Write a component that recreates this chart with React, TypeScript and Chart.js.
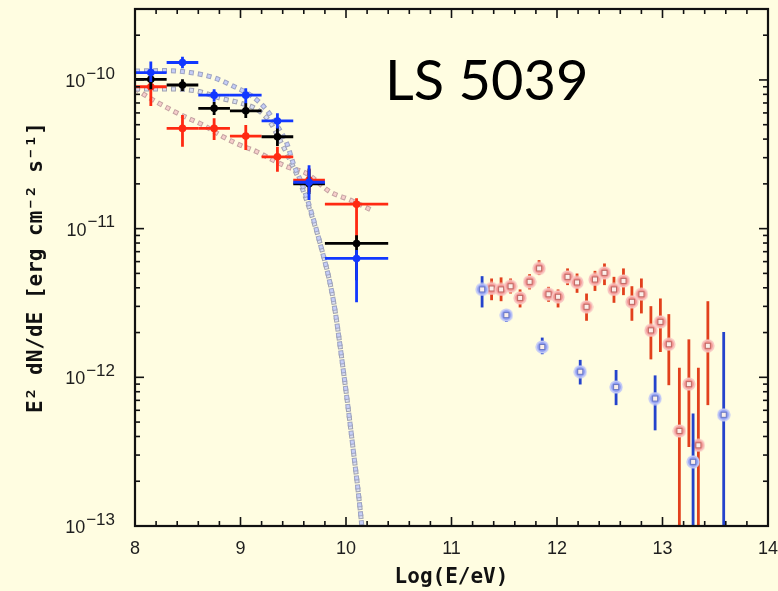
import { useEffect, useRef } from "react";
import { Chart, registerables } from "chart.js";

Chart.register(...registerables);

const BG = "#fffde1";

// Axis ranges and tick labels
const xMin = 8;
const xMax = 14;
const yMin = 1e-13;
const yMax = 3e-10;
const xTickLabels = ["8", "9", "10", "11", "12", "13", "14"];
const yDecades = [-13, -12, -11, -10];

// Fermi-LAT spectral points: bin centres and bin edges in log10(E/eV)
const latLogE = [8.15, 8.45, 8.75, 9.05, 9.35, 9.65, 10.1];
const latBinLo = [8.0, 8.3, 8.6, 8.9, 9.2, 9.5, 9.8];
const latBinHi = [8.3, 8.6, 8.9, 9.2, 9.5, 9.8, 10.4];

const latBlue = [1.12e-10, 1.31e-10, 7.9e-11, 7.9e-11, 5.3e-11, 2.05e-11, 6.3e-12];
const latBlueLo = [9.7e-11, 1.2e-10, 7.13e-11, 6.96e-11, 4.72e-11, 1.56e-11, 3.2e-12];
const latBlueHi = [1.33e-10, 1.43e-10, 8.65e-11, 8.78e-11, 5.96e-11, 2.67e-11, 7.17e-12];

const latBlack = [1.01e-10, 9.25e-11, 6.44e-11, 6.2e-11, 4.15e-11, 2.0e-11, 7.95e-12];
const latBlackLo = [8.65e-11, 8.41e-11, 5.8e-11, 5.54e-11, 3.59e-11, 1.71e-11, 4.5e-12];
const latBlackHi = [1.18e-10, 1.01e-10, 7.1e-11, 7.0e-11, 4.82e-11, 2.51e-11, 9.04e-12];

const latRed = [9.0e-11, 4.72e-11, 4.72e-11, 4.19e-11, 3.04e-11, 2.12e-11, 1.46e-11];
const latRedLo = [6.67e-11, 3.55e-11, 3.94e-11, 3.38e-11, 2.41e-11, 1.76e-11, 7.5e-12];
const latRedHi = [1.1e-10, 5.8e-11, 5.52e-11, 4.97e-11, 3.55e-11, 2.55e-11, 1.6e-11];

// H.E.S.S. spectral points (red: high state, blue: low state)
const hessRedLogE = [11.38, 11.47, 11.56, 11.65, 11.74, 11.83, 11.92, 12.01, 12.1, 12.19, 12.28, 12.36, 12.45, 12.54, 12.63, 12.71, 12.8, 12.89, 12.98, 13.06, 13.16, 13.25, 13.34, 13.43];
const hessRed = [3.96e-12, 3.9e-12, 4.1e-12, 3.42e-12, 4.39e-12, 5.4e-12, 3.62e-12, 3.48e-12, 4.74e-12, 4.35e-12, 2.98e-12, 4.55e-12, 5.04e-12, 3.9e-12, 4.45e-12, 3.22e-12, 3.62e-12, 2.07e-12, 2.36e-12, 1.67e-12, 4.36e-13, 9.0e-13, 3.49e-13, 1.63e-12];
const hessRedLo = [3.3e-12, 3.25e-12, 3.66e-12, 2.95e-12, 3.9e-12, 4.87e-12, 3.22e-12, 2.95e-12, 4.17e-12, 3.7e-12, 2.4e-12, 3.81e-12, 4.17e-12, 3.17e-12, 3.57e-12, 2.4e-12, 2.69e-12, 1.32e-12, 1.48e-12, 8.85e-13, 1e-14, 3.4e-13, 1e-14, 6.5e-13];
const hessRedHi = [4.62e-12, 4.7e-12, 4.62e-12, 3.9e-12, 4.94e-12, 6.14e-12, 4.06e-12, 3.9e-12, 5.4e-12, 4.99e-12, 3.66e-12, 5.2e-12, 5.83e-12, 4.74e-12, 5.4e-12, 4.1e-12, 4.62e-12, 3.01e-12, 3.39e-12, 2.66e-12, 1.16e-12, 1.8e-12, 1.16e-12, 3.25e-12];

const hessBlueLogE = [11.29, 11.52, 11.86, 12.22, 12.56, 12.93, 13.29, 13.58];
const hessBlue = [3.9e-12, 2.62e-12, 1.6e-12, 1.09e-12, 8.6e-13, 7.2e-13, 2.7e-13, 5.6e-13];
const hessBlueLo = [2.95e-12, 2.36e-12, 1.43e-12, 8.95e-13, 6.5e-13, 4.4e-13, 1e-14, 1e-14];
const hessBlueHi = [4.79e-12, 2.83e-12, 1.85e-12, 1.31e-12, 1.12e-12, 1.03e-12, 5.7e-13, 2.02e-12];

// Model curves
const modelUpperLogE = [8.0, 8.284, 8.521, 8.739, 8.929, 9.118, 9.248, 9.343, 9.438, 9.5, 9.6, 9.754, 9.88, 9.974, 10.069, 10.149, 10.161];
const modelUpper = [1.148e-10, 1.156e-10, 1.122e-10, 1.04e-10, 9.1e-11, 7.7e-11, 6.27e-11, 4.97e-11, 3.76e-11, 2.75e-11, 1.85e-11, 7.98e-12, 3.3e-12, 1.12e-12, 3.23e-13, 1.01e-13, 7.9e-14];

const modelMidLogE = [8.0, 8.332, 8.588, 8.806, 8.995, 9.166, 9.28, 9.374, 9.469, 9.564, 9.754, 9.88, 9.974, 10.069, 10.149, 10.161];
const modelMid = [8.69e-11, 8.69e-11, 8.41e-11, 7.55e-11, 7.0e-11, 6.27e-11, 5.21e-11, 3.94e-11, 2.89e-11, 2.05e-11, 7.98e-12, 3.3e-12, 1.12e-12, 3.23e-13, 1.01e-13, 7.9e-14];

const modelLowLogE = [8.0, 8.095, 8.316, 8.474, 8.647, 8.834, 8.995, 9.154, 9.28, 9.438, 9.627, 9.848, 10.038, 10.244];
const modelLow = [8.81e-11, 7.9e-11, 6.44e-11, 5.65e-11, 4.97e-11, 4.15e-11, 3.65e-11, 3.29e-11, 2.96e-11, 2.61e-11, 2.35e-11, 1.77e-11, 1.56e-11, 1.33e-11];

const pts = (xs: number[], ys: number[]) => xs.map((x, i) => ({ x, y: ys[i] }));

// Marker glyph: filled disc with a small open square in the middle
function makeGlyph(fill: string, ring: string, square: string) {
  const size = 14;
  const c = document.createElement("canvas");
  c.width = size;
  c.height = size;
  const g = c.getContext("2d")!;
  const m = size / 2;
  g.beginPath();
  g.arc(m, m, m - 1.3, 0, Math.PI * 2);
  g.fillStyle = fill;
  g.fill();
  g.lineWidth = 1.8;
  g.strokeStyle = ring;
  g.stroke();
  g.fillStyle = "#fbefea";
  g.fillRect(m - 2, m - 2, 4, 4);
  g.lineWidth = 1;
  g.strokeStyle = square;
  g.strokeRect(m - 2.5, m - 2.5, 5, 5);
  return c;
}

// Error bars drawn just beneath each dataset's markers
const errorBarPlugin = {
  id: "errorBars",
  beforeDatasetDraw(chart: any, args: any) {
    const ds = chart.data.datasets[args.index];
    if (!ds.errYLo) return;
    const { ctx, chartArea: a, scales } = chart;
    const xs = scales.x;
    const ys = scales.y;
    ctx.save();
    ctx.beginPath();
    ctx.rect(a.left, a.top, a.right - a.left, a.bottom - a.top);
    ctx.clip();
    ctx.strokeStyle = ds.errColor;
    ctx.lineWidth = ds.errWidth;
    ctx.lineCap = "butt";
    ds.data.forEach((p: any, i: number) => {
      const px = xs.getPixelForValue(p.x);
      const py = ys.getPixelForValue(p.y);
      ctx.beginPath();
      ctx.moveTo(px, ys.getPixelForValue(ds.errYLo[i]));
      ctx.lineTo(px, ys.getPixelForValue(ds.errYHi[i]));
      if (ds.errXLo) {
        ctx.moveTo(xs.getPixelForValue(ds.errXLo[i]), py);
        ctx.lineTo(xs.getPixelForValue(ds.errXHi[i]), py);
      }
      ctx.stroke();
    });
    ctx.restore();
  },
};

// Frame with inward ticks on all four sides, tick labels, axis titles and source name
const framePlugin = {
  id: "frame",
  afterDatasetsDraw(chart: any) {
    const { ctx, chartArea: a, scales } = chart;
    const xs = scales.x;
    const ys = scales.y;
    ctx.save();
    ctx.strokeStyle = "#111";
    ctx.lineWidth = 1.6;
    const seg = (x1: number, y1: number, x2: number, y2: number) => {
      ctx.beginPath();
      ctx.moveTo(x1, y1);
      ctx.lineTo(x2, y2);
      ctx.stroke();
    };
    for (let i = 0; i <= (xMax - xMin) * 5; i++) {
      const px = xs.getPixelForValue(xMin + i * 0.2);
      const len = i % 5 === 0 ? 9 : 5;
      seg(px, a.bottom, px, a.bottom - len);
      seg(px, a.top, px, a.top + len);
    }
    for (const e of yDecades) {
      for (let m = 1; m <= 9; m++) {
        const v = m * Math.pow(10, e);
        if (v > yMax * 1.0001) continue;
        const py = ys.getPixelForValue(v);
        const len = m === 1 ? 9 : 5;
        seg(a.left, py, a.left + len, py);
        seg(a.right, py, a.right - len, py);
      }
    }
    ctx.lineWidth = 2.2;
    ctx.strokeRect(a.left, a.top, a.right - a.left, a.bottom - a.top);
    ctx.restore();
  },
  afterDraw(chart: any) {
    const { ctx, chartArea: a, scales } = chart;
    const xs = scales.x;
    const ys = scales.y;
    ctx.save();
    ctx.fillStyle = "#1e1e1e";
    ctx.textBaseline = "middle";

    // x tick labels
    ctx.font = "18px 'Liberation Sans'";
    ctx.textAlign = "center";
    xTickLabels.forEach((t) => {
      ctx.fillText(t, xs.getPixelForValue(Number(t)), a.bottom + 23);
    });

    // y tick labels as 10 with a raised exponent
    ctx.textAlign = "left";
    for (const e of yDecades) {
      const py = ys.getPixelForValue(Math.pow(10, e));
      const sup = "\u2212" + String(-e);
      ctx.font = "17px 'Liberation Sans'";
      const wSup = ctx.measureText(sup).width;
      ctx.font = "18px 'Liberation Sans'";
      const wBase = ctx.measureText("10").width;
      const right = a.left - 20;
      const supX = right - wSup;
      ctx.fillText("10", supX - wBase - 1, py + 2);
      ctx.font = "17px 'Liberation Sans'";
      ctx.fillText(sup, supX, py - 6);
    }

    // axis titles
    ctx.fillStyle = "#111";
    ctx.font = "bold 21px 'DejaVu Sans Mono'";
    ctx.textAlign = "center";
    ctx.fillText("Log(E/eV)", (a.left + a.right) / 2, 578);
    ctx.save();
    ctx.translate(37, (a.top + a.bottom) / 2);
    ctx.rotate(-Math.PI / 2);
    ctx.fillText("E\u00b2 dN/dE [erg cm\u207b\u00b2 s\u207b\u00b9]", 0, 0);
    ctx.restore();

    // source name
    ctx.fillStyle = "#000";
    ctx.font = "56px Lato";
    ctx.textAlign = "left";
    ctx.textBaseline = "alphabetic";
    ctx.fillText("LS 5039", 385, 100);
    ctx.restore();
  },
};

// A model curve drawn as a chain of small open squares: a grey dashed outline with a pale dashed core
function modelLines(xs: number[], ys: number[], fill: string, edge: string, order: number) {
  const base = {
    type: "line" as const,
    data: pts(xs, ys),
    pointRadius: 0,
    fill: false,
    cubicInterpolationMode: "monotone" as const,
    clip: 0,
    borderCapStyle: "butt" as const,
  };
  return [
    { ...base, borderColor: fill, borderWidth: 3, borderDash: [3, 6], borderDashOffset: -1, order },
    { ...base, borderColor: edge, borderWidth: 5, borderDash: [5, 4], order: order + 1 },
  ];
}

export default function App() {
  const ref = useRef<HTMLCanvasElement>(null);

  useEffect(() => {
    const redGlyph = makeGlyph("#f2928e", "#f8c4c0", "#c06a66");
    const blueGlyph = makeGlyph("#8c9af0", "#c3caf6", "#6c7ac4");

    const latSet = (ys: number[], lo: number[], hi: number[], color: string, order: number) => ({
      type: "scatter" as const,
      data: pts(latLogE, ys),
      pointStyle: "circle" as const,
      pointRadius: 3.8,
      backgroundColor: color,
      borderColor: color,
      borderWidth: 0,
      errXLo: latBinLo,
      errXHi: latBinHi,
      errYLo: lo,
      errYHi: hi,
      errColor: color,
      errWidth: 2.8,
      clip: 0,
      order,
    });

    const hessSet = (xs: number[], ys: number[], lo: number[], hi: number[], glyph: HTMLCanvasElement, color: string, order: number) => ({
      type: "scatter" as const,
      data: pts(xs, ys),
      pointStyle: glyph,
      pointRadius: 6,
      errYLo: lo,
      errYHi: hi,
      errColor: color,
      errWidth: 2.8,
      clip: 0,
      order,
    });

    const chart = new Chart(ref.current!, {
      type: "scatter",
      data: {
        datasets: [
          ...modelLines(modelLowLogE, modelLow, "#f7cfcc", "#c4a2a2", 30),
          ...modelLines(modelMidLogE, modelMid, "#dadff2", "#a0a2b2", 26),
          ...modelLines(modelUpperLogE, modelUpper, "#c6cef8", "#9ea4c2", 22),
          latSet(latRed, latRedLo, latRedHi, "#ff2a12", 12),
          latSet(latBlack, latBlackLo, latBlackHi, "#000000", 11),
          latSet(latBlue, latBlueLo, latBlueHi, "#1238ff", 10),
          hessSet(hessRedLogE, hessRed, hessRedLo, hessRedHi, redGlyph, "#e2401c", 4),
          hessSet(hessBlueLogE, hessBlue, hessBlueLo, hessBlueHi, blueGlyph, "#2443cc", 3),
        ] as any,
      },
      options: {
        responsive: false,
        devicePixelRatio: 1,
        animation: false,
        events: [],
        layout: { padding: { left: 135, right: 10, top: 9, bottom: 65 } },
        plugins: { legend: { display: false }, tooltip: { enabled: false } },
        scales: {
          x: { type: "linear", min: xMin, max: xMax, display: false },
          y: { type: "logarithmic", min: yMin, max: yMax, display: false },
        },
      },
      plugins: [errorBarPlugin, framePlugin],
    });
    return () => chart.destroy();
  }, []);

  return (
    <div style={{ position: "fixed", left: 0, top: 0, width: 778, height: 591, background: BG }}>
      <canvas ref={ref} width={778} height={591} style={{ display: "block" }} />
    </div>
  );
}
